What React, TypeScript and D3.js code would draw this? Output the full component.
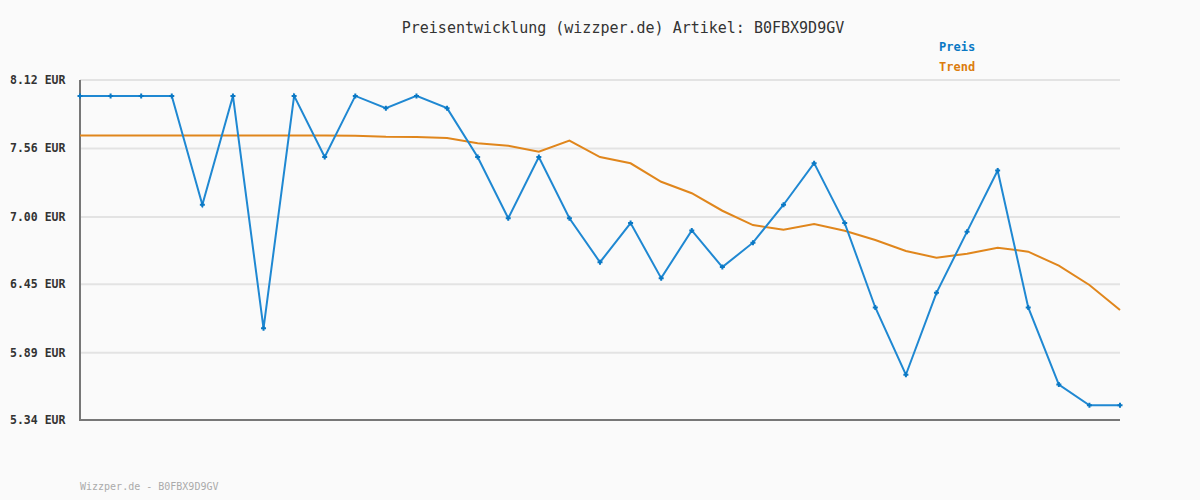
import * as d3 from "d3";

const title = "Preisentwicklung (wizzper.de) Artikel: B0FBX9D9GV";
const footer = "Wizzper.de - B0FBX9D9GV";
const yTicks = [8.12, 7.56, 7.0, 6.45, 5.89, 5.34];

const preis = [
  7.99, 7.99, 7.99, 7.99, 7.1, 7.99, 6.09, 7.99, 7.49, 7.99, 7.89, 7.99,
  7.89, 7.49, 6.99, 7.49, 6.99, 6.63, 6.95, 6.5, 6.89, 6.59, 6.79, 7.1,
  7.44, 6.95, 6.26, 5.71, 6.38, 6.88, 7.38, 6.26, 5.63, 5.46, 5.46,
];

const trend = [
  7.666, 7.666, 7.666, 7.666, 7.666, 7.666, 7.666, 7.666, 7.666, 7.664,
  7.656, 7.654, 7.646, 7.602, 7.583, 7.534, 7.624, 7.49, 7.439, 7.288,
  7.194, 7.051, 6.934, 6.896, 6.943, 6.888, 6.812, 6.722, 6.667, 6.7,
  6.749, 6.716, 6.602, 6.444, 6.24,
];

const W = 1200;
const H = 500;
const left = 80;
const right = 1120;
const top = 80;
const bottom = 420;
const mono = "'DejaVu Sans Mono', 'Liberation Mono', monospace";

export default function App() {
  const x = d3
    .scaleLinear()
    .domain([0, preis.length - 1])
    .range([left, right]);
  const y = d3.scaleLinear().domain([5.34, 8.12]).range([bottom, top]);

  const line = d3
    .line<number>()
    .x((_, i) => x(i))
    .y((d) => y(d));

  return (
    <svg
      width={W}
      height={H}
      style={{ position: "absolute", left: 0, top: 0, background: "#fafafa" }}
    >
      <rect width={W} height={H} fill="#fafafa" />
      <text
        x={623}
        y={33}
        textAnchor="middle"
        fontFamily={mono}
        fontSize={15}
        fill="#333"
      >
        {title}
      </text>

      {/* legend */}
      <text x={939} y={51} fontFamily={mono} fontSize={12} fontWeight="bold" fill="#0a78c4">
        Preis
      </text>
      <text x={939} y={71} fontFamily={mono} fontSize={12} fontWeight="bold" fill="#dc7d0e">
        Trend
      </text>

      {/* grid + y labels */}
      {yTicks.map((t) => (
        <g key={t}>
          <line
            x1={left}
            x2={right}
            y1={y(t)}
            y2={y(t)}
            stroke="#e3e3e3"
            strokeWidth={2}
          />
          <text
            x={10}
            y={y(t) + 4}
            fontFamily={mono}
            fontSize={11.5}
            fontWeight="bold"
            fill="#333"
          >
            {t.toFixed(2)} EUR
          </text>
        </g>
      ))}

      {/* axes */}
      <line x1={left} x2={left} y1={top} y2={bottom + 1} stroke="#777" strokeWidth={2} />
      <line x1={left} x2={right} y1={bottom} y2={bottom} stroke="#777" strokeWidth={2} />

      <path d={line(trend) || ""} fill="none" stroke="#e0861c" strokeWidth={2} />
      <path d={line(preis) || ""} fill="none" stroke="#1f88d2" strokeWidth={2} />
      {preis.map((v, i) => (
        <path
          key={i}
          d={`M${x(i) - 2.5},${y(v)}H${x(i) + 2.5}M${x(i)},${y(v) - 2.5}V${y(v) + 2.5}`}
          stroke="#0a78c4"
          strokeWidth={2}
        />
      ))}

      <text x={80} y={490} fontFamily={mono} fontSize={10} fill="#aaa">
        {footer}
      </text>
    </svg>
  );
}
